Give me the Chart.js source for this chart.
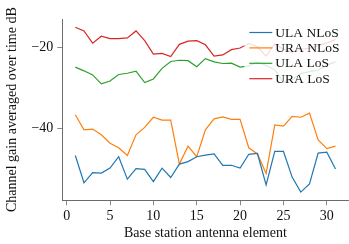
<!DOCTYPE html>
<html lang="en">
<head>
<meta charset="UTF-8">
<title>Channel gain per antenna element</title>
<style>
  html, body { margin: 0; padding: 0; background: #fff; }
  .chart-box { width: 349px; height: 244px; position: relative; }
</style>
</head>
<body>
<div class="chart-box"><canvas id="gainChart"></canvas></div>

<script src="https://cdn.jsdelivr.net/npm/chart.js"></script>
<script>
// antenna element index (x axis)
const elements = [1, 2, 3, 4, 5, 6, 7, 8, 9, 10, 11, 12, 13, 14, 15, 16, 17, 18, 19, 20,
                  21, 22, 23, 24, 25, 26, 27, 28, 29, 30, 31];

// channel gain in dB
const ulaNLoS = [-46.6, -53.3, -50.8, -50.9, -49.7, -46.9, -52.4, -49.8, -50.0, -53.0,
                 -49.7, -52.0, -48.7, -48.1, -46.9, -46.5, -46.2, -49.0, -49.0, -49.7,
                 -46.3, -46.1, -53.8, -45.6, -45.6, -51.9, -55.6, -53.6, -46.0, -45.8, -49.9];
const uraNLoS = [-36.6, -40.3, -40.1, -41.5, -43.6, -44.7, -46.6, -41.5, -39.7, -37.2,
                 -37.9, -37.9, -48.7, -44.3, -46.9, -40.3, -37.6, -37.1, -37.7, -37.7,
                 -44.7, -46.2, -51.0, -39.1, -39.4, -37.0, -37.2, -36.2, -42.8, -44.9, -44.3];
const ulaLoS  = [-24.9, -25.8, -26.8, -29.0, -28.3, -26.7, -26.4, -25.9, -28.7, -27.8,
                 -25.2, -23.5, -23.2, -23.3, -24.8, -22.8, -23.6, -24.0, -23.9, -24.9,
                 -24.6, -23.6, -24.5, -25.5, -28.6, -28.0, -26.5, -26.0, -25.6, -24.4, -23.6];
const uraLoS  = [-15.1, -16.0, -19.0, -17.3, -17.9, -17.9, -17.7, -16.0, -18.4, -21.7,
                 -21.5, -22.3, -19.3, -18.5, -18.4, -19.4, -22.2, -21.9, -20.6, -20.2,
                 -19.1, -19.9, -22.2, -19.2, -20.5, -21.2, -20.5, -20.3, -19.6, -19.0, -18.1];

const seriesNames = ['ULA NLoS', 'URA NLoS', 'ULA LoS', 'URA LoS'];
const seriesValues = [ulaNLoS, uraNLoS, ulaLoS, uraLoS];
const seriesColors = ['#1f77b4', '#ff7f0e', '#2ca02c', '#d62728'];

const xTicks = [0, 5, 10, 15, 20, 25, 30];
const yTicks = [-40, -20];

const FONT = '"Liberation Serif", "Times New Roman", serif';
const AXIS = '#6b6b6b';

const minusFmt = v => (v < 0 ? '\u2212' + Math.abs(v) : String(v));

// legend drawn on top of the lines with a half see-through white box
const legendOverlay = {
  id: 'legendOverlay',
  afterDatasetsDraw(chart) {
    const { ctx, chartArea } = chart;
    const x0 = chartArea.left + 182;
    const y0 = chartArea.top + 3;
    ctx.save();
    ctx.fillStyle = 'rgba(255,255,255,0.82)';
    ctx.fillRect(x0, y0, 98, 64);
    ctx.font = '13.5px ' + FONT;
    ctx.textBaseline = 'middle';
    chart.data.datasets.forEach((ds, i) => {
      const y = y0 + 10.5 + i * 15.4;
      ctx.strokeStyle = ds.borderColor;
      ctx.lineWidth = 1.2;
      ctx.beginPath();
      ctx.moveTo(x0 + 5, y);
      ctx.lineTo(x0 + 28, y);
      ctx.stroke();
      ctx.fillStyle = '#111';
      ctx.fillText(ds.label, x0 + 31, y + 0.5);
    });
    ctx.restore();
  }
};

const ctx = document.getElementById('gainChart').getContext('2d');
new Chart(ctx, {
  type: 'line',
  data: {
    datasets: seriesNames.map((name, i) => ({
      label: name,
      data: elements.map((e, j) => ({ x: e, y: seriesValues[i][j] })),
      borderColor: seriesColors[i],
      backgroundColor: seriesColors[i],
      borderWidth: 1.2,
      pointRadius: 0,
      tension: 0,
      fill: false
    }))
  },
  options: {
    responsive: true,
    maintainAspectRatio: false,
    animation: false,
    layout: { padding: { top: 19, right: 0.5, left: 0, bottom: 0 } },
    plugins: { legend: { display: false }, tooltip: { enabled: false } },
    scales: {
      x: {
        type: 'linear',
        min: -0.5,
        max: 32.5,
        afterBuildTicks: s => { s.ticks = xTicks.map(v => ({ value: v })); },
        afterFit: s => { s.height = 43.7; },
        grid: { display: true, drawOnChartArea: false, drawTicks: true, tickLength: 5, color: AXIS, lineWidth: 0.8 },
        border: { display: true, color: AXIS, width: 1 },
        ticks: { color: '#111', font: { family: FONT, size: 14 }, padding: 3, maxRotation: 0, callback: minusFmt },
        title: { display: true, text: 'Base station antenna element', color: '#111',
                 font: { family: FONT, size: 14 }, padding: { top: 0, bottom: 2 } }
      },
      y: {
        type: 'linear',
        min: -57.6,
        max: -13.07,
        afterBuildTicks: s => { s.ticks = yTicks.map(v => ({ value: v })); },
        afterFit: s => { s.width = 62.3; },
        grid: { display: true, drawOnChartArea: false, drawTicks: true, tickLength: 5, color: AXIS, lineWidth: 0.8 },
        border: { display: true, color: AXIS, width: 1 },
        ticks: { color: '#111', font: { family: FONT, size: 14 }, padding: 4, callback: minusFmt },
        title: { display: true, text: 'Channel gain averaged over time dB', color: '#111',
                 font: { family: FONT, size: 14 }, padding: { top: 4, bottom: 0 } }
      }
    }
  },
  plugins: [legendOverlay]
});
</script>
</body>
</html>
